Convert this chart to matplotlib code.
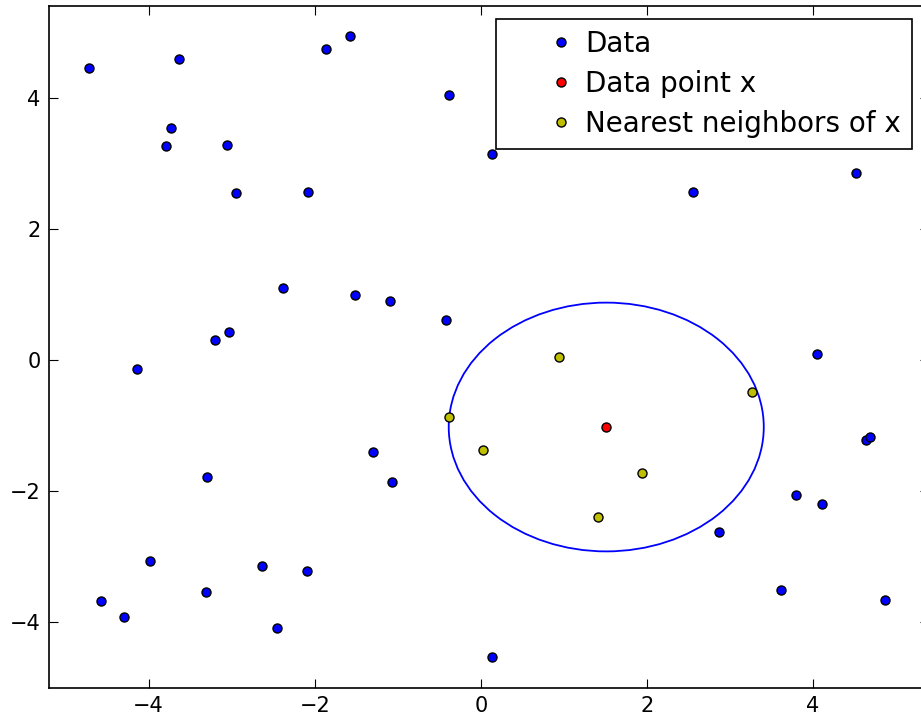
import numpy as np
import matplotlib
matplotlib.use("Agg")
import matplotlib.pyplot as plt
from matplotlib.patches import Circle

# ---- Data ----
data_x = [-4.72, -3.64, -1.86, -3.73, -3.79, -3.06, -2.95, -2.08, -1.57, -0.38,
          0.14, 2.56, 4.52, 4.05, 4.64, 4.68, 3.80, 4.11, 3.61, 4.87,
          -2.38, -1.52, -1.09, -0.42, -3.03, -3.20, -4.14, -1.30, -1.07, -3.30,
          -3.98, -2.63, -2.09, -3.31, -4.57, -4.30, -2.45, 0.14, 2.87]
data_y = [4.46, 4.59, 4.75, 3.54, 3.26, 3.28, 2.55, 2.57, 4.95, 4.05,
          3.14, 2.57, 2.85, 0.10, -1.22, -1.18, -2.05, -2.20, -3.50, -3.66,
          1.10, 0.99, 0.90, 0.61, 0.43, 0.30, -0.14, -1.40, -1.86, -1.79,
          -3.06, -3.14, -3.22, -3.54, -3.67, -3.92, -4.08, -4.53, -2.62]

point_x = [1.51]
point_y = [-1.02]

nn_x = [0.94, 3.27, -0.38, 0.02, 1.94, 1.41]
nn_y = [0.05, -0.48, -0.86, -1.37, -1.72, -2.39]

labels = ["Data", "Data point x", "Nearest neighbors of x"]

# ---- Figure ----
fig = plt.figure(figsize=(9.21, 7.18), dpi=100)
ax = fig.add_axes([49 / 921, 30 / 718, 880.3 / 921, 682 / 718])

ms = 6.5
ax.plot(data_x, data_y, 'o', color='b', mec='k', mew=1.0, ms=ms, label=labels[0])
ax.plot(point_x, point_y, 'o', color='r', mec='k', mew=1.0, ms=ms, label=labels[1])
ax.plot(nn_x, nn_y, 'o', color=(0.75, 0.75, 0), mec='k', mew=1.0, ms=ms, label=labels[2])

# circle through the farthest neighbour
radius = max(np.hypot(np.array(nn_x) - point_x[0], np.array(nn_y) - point_y[0]))
ax.add_patch(Circle((point_x[0], point_y[0]), radius, fill=False, ec='b', lw=1.3))

ax.set_xlim(-5.2, 5.4)
ax.set_ylim(-5.0, 5.4)
ax.set_xticks([-4, -2, 0, 2, 4])
ax.set_yticks([-4, -2, 0, 2, 4])
ax.tick_params(direction='in', length=6.5, width=0.8, top=True, right=True,
               labelsize=15, pad=6)
for sp in ax.spines.values():
    sp.set_linewidth(1.2)

leg = ax.legend(loc='upper right', bbox_to_anchor=(0.980, 0.981), borderaxespad=0,
                numpoints=1, fontsize=20, fancybox=False, framealpha=1,
                edgecolor='k', borderpad=0.40, labelspacing=0.43,
                handlelength=3.84, handletextpad=-1.05)
leg.get_frame().set_linewidth(1.2)

fig.savefig("out.png", dpi=100)
